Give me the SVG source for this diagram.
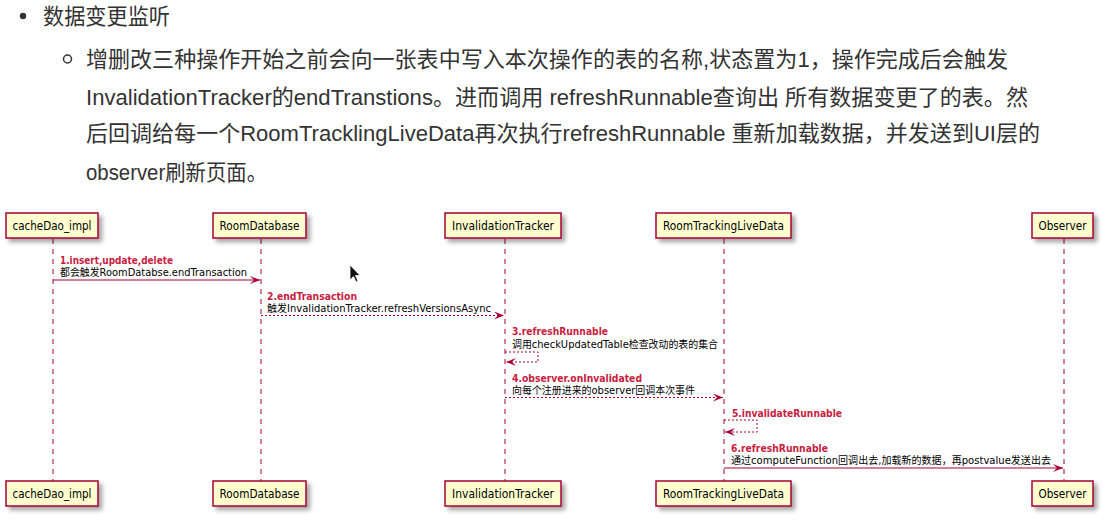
<svg xmlns="http://www.w3.org/2000/svg" width="1119" height="527" viewBox="0 0 1119 527">
  <style>
    .hdr { font-family: "Liberation Sans", "Noto Sans CJK SC", sans-serif; font-size: 22px; fill: #333333; }
    .box { fill: #FEFECE; stroke: #A80036; stroke-width: 1.5; }
    .boxt { font-family: "DejaVu Sans", "Liberation Sans", sans-serif; font-size: 11.5px; fill: #000000; text-anchor: middle; }
    .life { stroke: #A80036; stroke-width: 1; stroke-dasharray: 5,5; fill: none; }
    .msg { stroke: #A80036; stroke-width: 1; fill: none; }
    .dot { stroke-dasharray: 2,2; }
    .lab { font-family: "DejaVu Sans", "Noto Sans CJK SC", sans-serif; font-size: 10.5px; fill: #000000; }
    .red { font-family: "DejaVu Sans", "Noto Sans CJK SC", sans-serif; font-size: 10.5px; font-weight: bold; fill: #C8203F; }
  </style>
  <defs>
    <filter id="sh" x="-20%" y="-40%" width="140%" height="180%">
      <feDropShadow dx="3.5" dy="3.5" stdDeviation="2" flood-color="#000000" flood-opacity="0.35"/>
    </filter>
    <marker id="ah" viewBox="0 0 10 8" refX="10" refY="4" markerWidth="10" markerHeight="8" markerUnits="userSpaceOnUse" orient="auto">
      <polygon points="10,4 0,0 4,4 0,8" fill="#A80036"/>
    </marker>
  </defs>
  <rect width="1119" height="527" fill="#FFFFFF"/>

  <g id="header">
    <circle cx="23" cy="16" r="3.2" fill="#333333"/>
    <text class="hdr" x="43" y="24" textLength="127" lengthAdjust="spacingAndGlyphs">数据变更监听</text>
    <circle cx="67.5" cy="59" r="4" fill="none" stroke="#333333" stroke-width="1.5"/>
    <text class="hdr" x="86" y="67" textLength="922" lengthAdjust="spacingAndGlyphs">增删改三种操作开始之前会向一张表中写入本次操作的表的名称,状态置为1，操作完成后会触发</text>
    <text class="hdr" x="86" y="105" textLength="942" lengthAdjust="spacingAndGlyphs">InvalidationTracker的endTranstions。进而调用 refreshRunnable查询出 所有数据变更了的表。然</text>
    <text class="hdr" x="86" y="141" textLength="954" lengthAdjust="spacingAndGlyphs">后回调给每一个RoomTracklingLiveData再次执行refreshRunnable 重新加载数据，并发送到UI层的</text>
    <text class="hdr" x="86" y="180" textLength="181" lengthAdjust="spacingAndGlyphs">observer刷新页面。</text>
  </g>

  <g id="lifelines">
    <line class="life" x1="53" y1="239" x2="53" y2="481"/>
    <line class="life" x1="261" y1="239" x2="261" y2="481"/>
    <line class="life" x1="505" y1="239" x2="505" y2="481"/>
    <line class="life" x1="724" y1="239" x2="724" y2="481"/>
    <line class="life" x1="1064" y1="239" x2="1064" y2="481"/>
  </g>

  <g id="cacheDao_impl">
    <rect class="box" x="6" y="213" width="92" height="25" filter="url(#sh)"/>
    <text class="boxt" x="52" y="230" textLength="79" lengthAdjust="spacingAndGlyphs">cacheDao_impl</text>
    <rect class="box" x="6" y="481" width="92" height="25" filter="url(#sh)"/>
    <text class="boxt" x="52" y="498" textLength="79" lengthAdjust="spacingAndGlyphs">cacheDao_impl</text>
  </g>
  <g id="RoomDatabase">
    <rect class="box" x="213" y="213" width="93" height="25" filter="url(#sh)"/>
    <text class="boxt" x="259.5" y="230" textLength="80" lengthAdjust="spacingAndGlyphs">RoomDatabase</text>
    <rect class="box" x="213" y="481" width="93" height="25" filter="url(#sh)"/>
    <text class="boxt" x="259.5" y="498" textLength="80" lengthAdjust="spacingAndGlyphs">RoomDatabase</text>
  </g>
  <g id="InvalidationTracker">
    <rect class="box" x="445" y="213" width="116" height="25" filter="url(#sh)"/>
    <text class="boxt" x="503" y="230" textLength="102" lengthAdjust="spacingAndGlyphs">InvalidationTracker</text>
    <rect class="box" x="445" y="481" width="116" height="25" filter="url(#sh)"/>
    <text class="boxt" x="503" y="498" textLength="102" lengthAdjust="spacingAndGlyphs">InvalidationTracker</text>
  </g>
  <g id="RoomTrackingLiveData">
    <rect class="box" x="656" y="213" width="135" height="25" filter="url(#sh)"/>
    <text class="boxt" x="723.5" y="230" textLength="121" lengthAdjust="spacingAndGlyphs">RoomTrackingLiveData</text>
    <rect class="box" x="656" y="481" width="135" height="25" filter="url(#sh)"/>
    <text class="boxt" x="723.5" y="498" textLength="121" lengthAdjust="spacingAndGlyphs">RoomTrackingLiveData</text>
  </g>
  <g id="Observer">
    <rect class="box" x="1032" y="213" width="61" height="25" filter="url(#sh)"/>
    <text class="boxt" x="1062.5" y="230" textLength="48" lengthAdjust="spacingAndGlyphs">Observer</text>
    <rect class="box" x="1032" y="481" width="61" height="25" filter="url(#sh)"/>
    <text class="boxt" x="1062.5" y="498" textLength="48" lengthAdjust="spacingAndGlyphs">Observer</text>
  </g>

  <g id="connectors">
    <line class="msg" x1="53" y1="280" x2="260" y2="280" marker-end="url(#ah)"/>
    <line class="msg dot" x1="261" y1="315.5" x2="504" y2="315.5" marker-end="url(#ah)"/>
    <polyline class="msg dot" points="505,352 538,352 538,362 506,362" marker-end="url(#ah)"/>
    <line class="msg dot" x1="505" y1="397.5" x2="723" y2="397.5" marker-end="url(#ah)"/>
    <polyline class="msg dot" points="724,420 757,420 757,432 725,432" marker-end="url(#ah)"/>
    <line class="msg" x1="724" y1="468" x2="1063" y2="468" marker-end="url(#ah)"/>
  </g>

  <g id="labels">
    <text class="red" x="60" y="264" textLength="113" lengthAdjust="spacingAndGlyphs">1.insert,update,delete</text>
    <text class="lab" x="60" y="276" textLength="187" lengthAdjust="spacingAndGlyphs">都会触发RoomDatabse.endTransaction</text>
    <text class="red" x="267" y="299.5" textLength="90" lengthAdjust="spacingAndGlyphs">2.endTransaction</text>
    <text class="lab" x="267" y="311.5" textLength="224" lengthAdjust="spacingAndGlyphs">触发InvalidationTracker.refreshVersionsAsync</text>
    <text class="red" x="512" y="335" textLength="96" lengthAdjust="spacingAndGlyphs">3.refreshRunnable</text>
    <text class="lab" x="512" y="347.5" textLength="206" lengthAdjust="spacingAndGlyphs">调用checkUpdatedTable检查改动的表的集合</text>
    <text class="red" x="512" y="382" textLength="130" lengthAdjust="spacingAndGlyphs">4.observer.onInvalidated</text>
    <text class="lab" x="512" y="394" textLength="183" lengthAdjust="spacingAndGlyphs">向每个注册进来的observer回调本次事件</text>
    <text class="red" x="732" y="417" textLength="110" lengthAdjust="spacingAndGlyphs">5.invalidateRunnable</text>
    <text class="red" x="731" y="452" textLength="97" lengthAdjust="spacingAndGlyphs">6.refreshRunnable</text>
    <text class="lab" x="731" y="464" textLength="320" lengthAdjust="spacingAndGlyphs">通过computeFunction回调出去,加载新的数据，再postvalue发送出去</text>
  </g>

  <g id="cursor">
    <polygon points="350,265 350,280 353.5,276.5 356,282 358,281 355.5,275.5 360,275.5" fill="#111111" stroke="#ffffff" stroke-width="0.8"/>
  </g>
</svg>
